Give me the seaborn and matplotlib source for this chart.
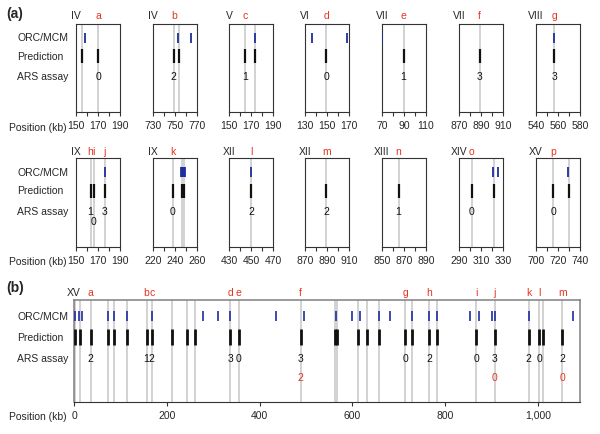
import matplotlib
matplotlib.use("Agg")
import matplotlib.pyplot as plt
import matplotlib.transforms as mtrans
import seaborn as sns

sns.set_style("white")
plt.rcParams["font.family"] = ["Liberation Sans", "DejaVu Sans"]

# ---------------- panel (a) data ----------------
box_chrom = ["IV", "IV", "V", "VI", "VII", "VII", "VIII",
             "IX", "IX", "XII", "XII", "XIII", "XIV", "XV"]
box_start = [150, 730, 150, 130, 70, 870, 540,
             150, 220, 430, 870, 850, 290, 700]
box_pred = [[155.8, 170.0], [748.8, 753.9], [164.3, 174.0], [149.3], [89.6], [888.8], [556.5],
            [163.2, 166.0, 176.2], [237.9, 246.1, 248.2], [450.1], [889.3], [865.1],
            [301.5, 322.1], [715.9, 729.8]]
box_orc = [[158.3], [753.0, 764.5], [174.0], [136.5, 168.5], [70.0], [], [556.5],
           [176.8], [245.9, 246.7, 247.5, 248.3, 249.1], [450.1], [], [],
           [321.2, 325.3], [728.9]]
ars_label = list("abcdefghijklmnop")
ars_box = [0, 1, 2, 3, 4, 5, 6, 7, 7, 7, 8, 9, 10, 11, 12, 13]
ars_pos = [170.0, 748.8, 164.3, 149.3, 89.6, 888.8, 556.5, 163.2, 166.0, 176.2,
           237.9, 450.1, 889.3, 865.1, 301.5, 715.9]
ars_score = [0, 2, 1, 0, 1, 3, 3, 1, 0, 3, 0, 2, 2, 1, 0, 0]
ars_line = [1, 1, 1, 1, 1, 1, 1, 1, 2, 1, 1, 1, 1, 1, 1, 1]

# ---------------- panel (b) data (chr XV) ----------------
pred_b = [2.9, 12.9, 35.9, 73.2, 86.8, 114.1, 156.4, 167.9, 211.0, 242.6, 261.2,
          337.3, 355.2, 488.7, 563.5, 566.0, 612.1, 630.8, 656.6, 714.7, 728.4,
          766.4, 782.9, 866.9, 907.1, 980.3, 1003.2, 1011.1, 1052.7]
orc_b = [3.0, 10.0, 16.5, 73.2, 86.8, 114.1, 167.9, 277.7, 310.0, 337.3, 436.3,
         495.2, 565.5, 599.9, 617.1, 656.6, 680.3, 728.4, 766.4, 782.9, 854.0,
         874.0, 901.3, 907.8, 980.3, 1076.4]
ars_b_label = list("abcdefghijklm")
ars_b_pos = [35.9, 156.4, 167.9, 337.3, 355.2, 488.7, 714.7, 766.4, 866.9, 907.1,
             980.3, 1003.2, 1052.7]
ars_b_score = [2, 1, 2, 3, 0, 3, 0, 2, 0, 3, 2, 0, 2]
ars_b_score2 = [None, None, None, None, None, 2, None, None, None, 0, None, None, 0]
row_names = ["ORC/MCM", "Prediction", "ARS assay"]

# ---------------- styling ----------------
W, H = 600, 435
BLUE = "#1f2e9e"
RED = "#e8331f"
GREY = "#c6c6c6"
FS = 7.5

fig = plt.figure(figsize=(W / 100, H / 100), dpi=100)


def add_ax(left, top, width, height):
    return fig.add_axes([left / W, 1 - (top + height) / H, width / W, height / H])


def fig_text(x, y, s, **kw):
    fig.text(x / W, 1 - y / H, s, **kw)


def draw_marks(ax, preds, orcs, y_orc, y_pred, s_pred, s_orc, lw_pred, lw_orc):
    sns.rugplot(x=preds, height=1, expand_margins=False, ax=ax, color=GREY,
                linewidth=1.1, zorder=0)
    sns.scatterplot(x=preds, y=[y_pred] * len(preds), marker="|", s=s_pred,
                    color="#111111", linewidth=lw_pred, ax=ax, legend=False, zorder=3)
    if len(orcs):
        sns.scatterplot(x=orcs, y=[y_orc] * len(orcs), marker="|", s=s_orc,
                        color=BLUE, linewidth=lw_orc, ax=ax, legend=False, zorder=3)


lefts = [76, 153, 229, 305, 382, 459, 536]
tops = [25.0, 159.3]
heights = [88.3, 89.0]
YA = {"orc": 0.153, "pred": 0.364, "ars": 0.592, "ars2": 0.708}

for i in range(len(box_chrom)):
    r, c = divmod(i, 7)
    ax = add_ax(lefts[c], tops[r], 44, heights[r])
    x0 = box_start[i]
    draw_marks(ax, box_pred[i], box_orc[i], YA["orc"], YA["pred"], 100, 62, 1.6, 1.3)
    ax.set_xlim(x0, x0 + 40)
    ax.set_ylim(1, 0)
    ax.set_xlabel("")
    ax.set_ylabel("")
    ax.set_yticks([])
    ax.set_xticks([x0, x0 + 20, x0 + 40])
    ax.set_xticks([x0 + 10, x0 + 30], minor=True)
    ax.tick_params(axis="x", which="both", bottom=True, direction="out", length=3,
                   width=0.8, color="#333333", labelsize=FS, pad=2.5)
    for sp in ax.spines.values():
        sp.set_color("#333333")
        sp.set_linewidth(0.8)
    lab_off = (9.0 if r == 0 else 7.6) / heights[r]
    ax.text(x0, -lab_off, box_chrom[i], ha="center", va="center", fontsize=FS,
            clip_on=False)
    for j in range(len(ars_label)):
        if ars_box[j] != i:
            continue
        ax.text(ars_pos[j], -lab_off, ars_label[j], ha="center", va="center",
                fontsize=FS, color=RED, clip_on=False)
        yy = YA["ars"] if ars_line[j] == 1 else YA["ars2"]
        ax.text(ars_pos[j], yy, str(ars_score[j]), ha="center", va="center",
                fontsize=FS, color="#111111")

for r, base in enumerate([0, 134.3]):
    for name, yy in zip(row_names, [38.3, 57.2, 77.3]):
        fig_text(17, base + yy, name, ha="left", va="center", fontsize=FS)
    fig_text(9, base + 127.7, "Position (kb)", ha="left", va="center", fontsize=FS)

# ---------------- panel (b) ----------------
axb = add_ax(74, 300.7, 506, 102.6)
YB = {"orc": 0.156, "pred": 0.36, "ars": 0.571, "ars2": 0.756}
draw_marks(axb, pred_b, orc_b, YB["orc"], YB["pred"], 132, 62, 2.0, 1.2)
axb.set_xlim(0, 1091)
axb.set_ylim(1, 0)
axb.set_xlabel("")
axb.set_ylabel("")
axb.set_yticks([])
axb.set_xticks([0, 200, 400, 600, 800, 1000])
axb.set_xticklabels(["0", "200", "400", "600", "800", "1,000"])
axb.tick_params(axis="x", bottom=True, direction="out", length=3, width=0.8,
                color="#333333", labelsize=FS, pad=2.5)
for name, sp in axb.spines.items():
    sp.set_color("#333333" if name == "bottom" else "#808080")
    sp.set_linewidth(0.8 if name == "bottom" else 1.1)
lab_b = 7.5 / 102.6
axb.text(0, -lab_b, "XV", ha="center", va="center", fontsize=FS, clip_on=False)
for j in range(len(ars_b_label)):
    axb.text(ars_b_pos[j], -lab_b, ars_b_label[j], ha="center", va="center",
             fontsize=FS, color=RED, clip_on=False)
    axb.text(ars_b_pos[j], YB["ars"], str(ars_b_score[j]), ha="center", va="center",
             fontsize=FS, color="#111111")
    if ars_b_score2[j] is not None:
        axb.text(ars_b_pos[j], YB["ars2"], str(ars_b_score2[j]), ha="center",
                 va="center", fontsize=FS, color=RED)

for name, yy in zip(row_names, [316.7, 338.0, 359.3]):
    fig_text(17, yy, name, ha="left", va="center", fontsize=FS)
fig_text(9, 416.7, "Position (kb)", ha="left", va="center", fontsize=FS)

fig_text(6, 14, "(a)", ha="left", va="center", fontsize=10, fontweight="bold")
fig_text(6, 288, "(b)", ha="left", va="center", fontsize=10, fontweight="bold")

fig.savefig("out.png", dpi=100)
